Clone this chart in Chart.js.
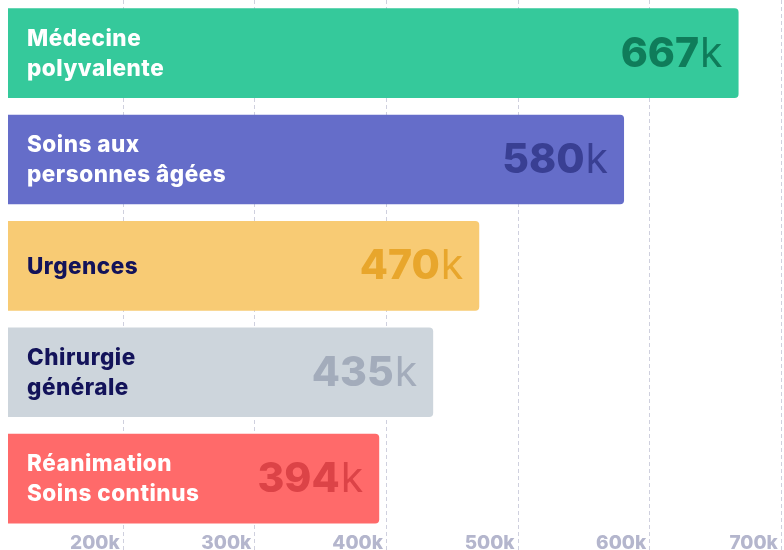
<!DOCTYPE html>
<html>
<head>
<meta charset="utf-8">
<script src="https://cdn.jsdelivr.net/npm/chart.js@4/dist/chart.umd.min.js"></script>
<style>
  html, body { margin: 0; padding: 0; background: #ffffff; }
  #wrap { width: 784px; height: 550px; position: relative; }
</style>
</head>
<body>
<div id="wrap"><canvas id="chart"></canvas></div>
<script>
// categories (one entry per bar, split in lines as shown)
const categories = [
    ['Médecine', 'polyvalente'],
    ['Soins aux', 'personnes âgées'],
    ['Urgences'],
    ['Chirurgie', 'générale'],
    ['Réanimation', 'Soins continus']
];
// values in thousands
const values = [667, 580, 470, 435, 394];
const tickValues = [200, 300, 400, 500, 600, 700];
const tickLabels = ['200k', '300k', '400k', '500k', '600k', '700k'];

const barColors = ['#35c99b', '#656dc9', '#f8cb74', '#cdd5dc', '#ff6a6a'];
const valueColors = ['#0f7c5a', '#393f93', '#e8a62c', '#a3acbb', '#dc4347'];
const nameColors = ['#ffffff', '#ffffff', '#13135a', '#13135a', '#ffffff'];

const FONT = 'Inter, "Noto Sans", sans-serif';

// dashed grid lines running the full height of the canvas
const fullGrid = {
    id: 'fullGrid',
    beforeDatasetsDraw(chart) {
        const ctx = chart.ctx;
        const scale = chart.scales.x;
        ctx.save();
        ctx.strokeStyle = '#cfd0de';
        ctx.lineWidth = 1;
        ctx.setLineDash([4, 3]);
        scale.ticks.forEach((t, i) => {
            const x = Math.round(scale.getPixelForTick(i)) - 0.5;
            ctx.beginPath();
            ctx.moveTo(x, 0);
            ctx.lineTo(x, chart.height);
            ctx.stroke();
        });
        ctx.restore();
    }
};

// names on the left, values on the right, inside each bar
const barLabels = {
    id: 'barLabels',
    afterDatasetsDraw(chart) {
        const ctx = chart.ctx;
        const meta = chart.getDatasetMeta(0);
        const left = chart.chartArea.left;
        meta.data.forEach((bar, i) => {
            const lines = categories[i];
            ctx.save();
            ctx.textBaseline = 'middle';
            ctx.textAlign = 'left';
            ctx.fillStyle = nameColors[i];
            ctx.font = '800 22.5px ' + FONT;
            ctx.letterSpacing = '0.5px';
            const lh = 30;
            lines.forEach((line, j) => {
                ctx.fillText(line, left + 19, bar.y + 1 + (j - (lines.length - 1) / 2) * lh);
            });
            ctx.letterSpacing = '0px';

            const right = bar.x - 16;
            ctx.textAlign = 'right';
            ctx.fillStyle = valueColors[i];
            ctx.font = '400 41px ' + FONT;
            ctx.fillText('k', right, bar.y + 1);
            const kw = ctx.measureText('k').width;
            ctx.font = '800 41px ' + FONT;
            ctx.fillText(String(values[i]), right - kw - 1, bar.y + 1);
            ctx.restore();
        });
    }
};

const ctx = document.getElementById('chart').getContext('2d');
new Chart(ctx, {
    type: 'bar',
    data: {
        labels: categories.map(c => c.join(' ')),
        datasets: [{
            data: values,
            backgroundColor: barColors,
            borderRadius: 4,
            borderSkipped: 'start',
            barPercentage: 0.843,
            categoryPercentage: 1
        }]
    },
    options: {
        indexAxis: 'y',
        responsive: true,
        maintainAspectRatio: false,
        animation: false,
        layout: {
            padding: { left: 8, right: 1, top: 0, bottom: 0 }
        },
        plugins: {
            legend: { display: false },
            tooltip: { enabled: false }
        },
        scales: {
            x: {
                min: 112,
                max: 700,
                afterBuildTicks(scale) {
                    scale.ticks = tickValues.map(v => ({ value: v }));
                },
                grid: { display: false, drawTicks: false },
                border: { display: false },
                ticks: {
                    align: 'end',
                    padding: 2,
                    color: '#b4b6cd',
                    font: { family: FONT, size: 19, weight: '800', lineHeight: 0.75 },
                    callback(value) {
                        const i = tickValues.indexOf(value);
                        return (i >= 0 ? tickLabels[i] : '') + ' ';
                    }
                }
            },
            y: {
                display: false,
                afterFit(scale) {}
            }
        }
    },
    plugins: [fullGrid, barLabels, {
        id: 'tickShift',
        beforeDraw(chart) {
            // nudge the x tick labels down so they sit cut at the bottom edge, as in the reference
            chart.scales.x.options.ticks.padding = 4;
        }
    }]
});
</script>
</body>
</html>
